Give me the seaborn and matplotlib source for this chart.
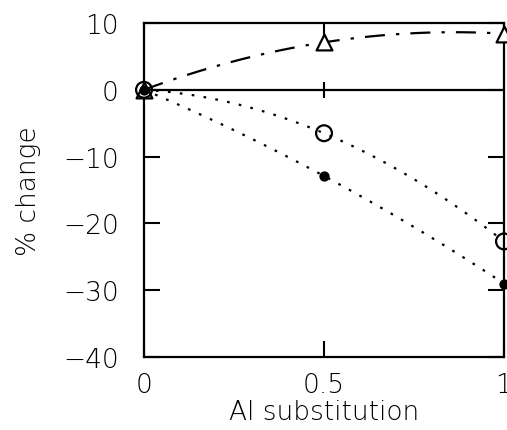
import matplotlib
matplotlib.use("Agg")
import matplotlib.pyplot as plt
import seaborn as sns
import numpy as np
import pandas as pd

# ---- data ----
al_sub = [0.0, 0.5, 1.0]
triangle_vals = [0.0, 7.1, 8.4]
open_circle_vals = [0.0, -6.5, -22.7]
filled_circle_vals = [0.0, -12.9, -29.0]
xtick_vals = [0, 0.5, 1]
xtick_labels = ["0", "0.5", "1"]
ytick_vals = [10, 0, -10, -20, -30, -40]
ytick_labels = ["10", "0", "\u221210", "\u221220", "\u221230", "\u221240"]

sns.set_style("white")
plt.rcParams['font.family'] = ['DejaVu Sans']
plt.rcParams['font.weight'] = 'light'
plt.rcParams['axes.labelweight'] = 'light'

fig = plt.figure(figsize=(5.07, 4.31), dpi=100)
ax = fig.add_axes([144/507, 1-358/431, 360/507, 334/431])

df = pd.DataFrame({"x": al_sub, "tri": triangle_vals,
                   "oc": open_circle_vals, "fc": filled_circle_vals})

# fitted curves
sns.regplot(data=df, x="x", y="tri", order=2, ci=None, scatter=False, ax=ax,
            line_kws=dict(color="black", lw=1.6, linestyle=(0, (9, 5, 1.5, 5))))
sns.regplot(data=df, x="x", y="oc", order=2, ci=None, scatter=False, ax=ax,
            line_kws=dict(color="black", lw=1.6, linestyle=(0, (1.2, 4.2))))
sns.regplot(data=df, x="x", y="fc", order=2, ci=None, scatter=False, ax=ax,
            line_kws=dict(color="black", lw=1.6, linestyle=(0, (1.2, 4.2))))

ax.axhline(0, color="black", lw=1.6, zorder=1)
ax.plot([xtick_vals[1]], [0], marker='|', ms=12, mew=1.5, color='black', zorder=1)

# markers
sns.scatterplot(data=df, x="x", y="tri", marker="^", s=130, facecolor="white",
                edgecolor="black", linewidth=1.6, ax=ax, clip_on=False, zorder=5)
sns.scatterplot(data=df, x="x", y="oc", marker="o", s=130, facecolor="none",
                edgecolor="black", linewidth=1.6, ax=ax, clip_on=False, zorder=5)
sns.scatterplot(data=df, x="x", y="fc", marker="o", s=55, color="black",
                edgecolor="black", linewidth=0, ax=ax, clip_on=False, zorder=6)

ax.set_xlim(0, 1)
ax.set_ylim(-40, 10)
ax.set_xticks(xtick_vals)
ax.set_xticklabels(xtick_labels)
ax.set_yticks(ytick_vals)
ax.set_yticklabels(ytick_labels)

for s in ax.spines.values():
    s.set_visible(True)
    s.set_color("black")
    s.set_linewidth(1.6)

ax.tick_params(axis="both", which="major", direction="in", length=11.5, width=1.5,
               top=True, right=True, bottom=True, left=True, labelsize=19, colors="black")
ax.tick_params(axis="y", pad=18)
ax.tick_params(axis="x", pad=11)

ax.set_xlabel("Al substitution", fontsize=19, labelpad=1, color="black", fontweight="light")
ax.set_ylabel("% change", fontsize=19, labelpad=16, color="black", fontweight="light")

fig.savefig("out.png", dpi=100)
